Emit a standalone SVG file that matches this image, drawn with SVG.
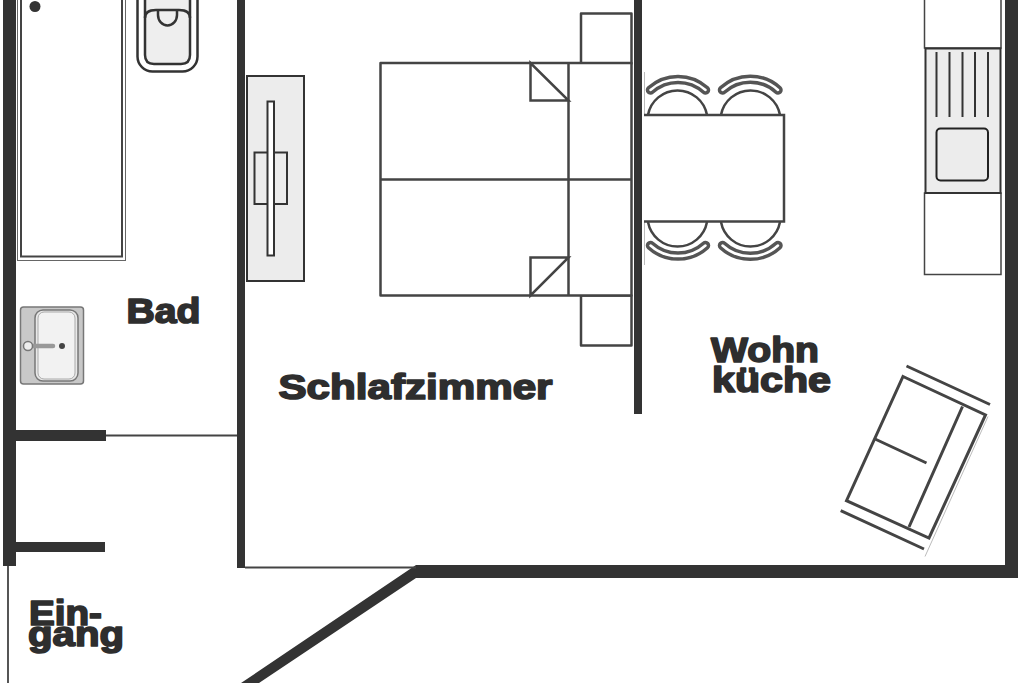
<svg xmlns="http://www.w3.org/2000/svg" width="1024" height="683" viewBox="0 0 1024 683">
<style>
.wall{fill:#333}
.ln{fill:none;stroke:#444;stroke-width:2.500}
.lw{fill:#fff;stroke:#444;stroke-width:2.500;stroke-linejoin:round}
.gr{fill:#ececec;stroke:#333;stroke-width:2}
.faint{fill:none;stroke:#bbb;stroke-width:1}
.lb{font-family:"Liberation Sans",Arial,sans-serif;font-weight:700;fill:#2e2e2e;stroke:#2e2e2e;stroke-width:1.700;stroke-linejoin:round}
</style>
<rect width="1024" height="683" fill="#fff"/>
<g id="walls">
<rect class="wall" x="3" y="0" width="13" height="566"/>
<rect class="wall" x="237" y="0" width="8" height="568"/>
<rect class="wall" x="1005" y="0" width="13" height="578"/>
<rect class="wall" x="634" y="0" width="8" height="414"/>
<rect class="wall" x="16" y="430" width="90" height="11"/>
<rect class="wall" x="16" y="542" width="89" height="10"/>
<polygon class="wall" points="416,565 1018,565 1018,578 416,578 259,683 241,683"/>
<path d="M106 435.500H237M245 567.500H416M8 566V683" fill="none" stroke="#444" stroke-width="1.800"/>
</g>
<g id="bathtub">
<rect x="17.500" y="-5" width="108" height="265.500" fill="#fff" stroke="#666" stroke-width="1"/>
<rect x="21" y="-5" width="101" height="261.500" fill="none" stroke="#444" stroke-width="2"/>
<circle cx="35" cy="6.500" r="5.500" fill="#333"/>
</g>
<g id="toilet">
<rect x="137.500" y="-20" width="60" height="91.500" rx="15" fill="#fff" stroke="#333" stroke-width="2.500"/>
<path d="M145 -10V55Q145 64 154 64H181Q190 64 190 55V-10Z" fill="#eee" stroke="#333" stroke-width="2.500"/>
<path d="M145 18Q145 10 156 10H179Q190 10 190 18" fill="none" stroke="#333" stroke-width="2.500"/>
<path d="M158 11V15A9.500 10.500 0 0 0 177 15V11" fill="none" stroke="#333" stroke-width="2.500"/>
</g>
<g id="washbasin">
<rect x="20.500" y="307" width="63" height="77" rx="3" fill="#c8c8c8" stroke="#777" stroke-width="1.500"/>
<rect x="35" y="310" width="43" height="71" rx="8" fill="#e8e8e8" stroke="#777" stroke-width="1.500"/>
<rect x="38" y="312" width="37" height="67" rx="6" fill="#f2f2f2" stroke="#aaa" stroke-width="1"/>
<path d="M28 346H53" stroke="#999" stroke-width="4.500" stroke-linecap="round"/>
<circle cx="28" cy="346" r="4.500" fill="#eee" stroke="#777" stroke-width="1.500"/>
<circle cx="62" cy="346" r="3" fill="#444"/>
</g>
<g id="wardrobe">
<rect class="gr" x="247" y="76" width="57" height="205"/>
<rect x="254.500" y="152.500" width="32.500" height="51.500" fill="none" stroke="#333" stroke-width="2"/>
<rect x="267.500" y="101.500" width="6.500" height="154" fill="#fff" stroke="#333" stroke-width="2"/>
</g>
<g id="bed">
<rect class="lw" x="581" y="13.500" width="50.500" height="50"/>
<rect class="lw" x="581" y="295.500" width="50.500" height="50"/>
<rect class="lw" x="380.500" y="63" width="251" height="232.500"/>
<path class="ln" d="M380.500 179.500H631.500M568.500 63V295.500"/>
<path class="ln" d="M530.500 63V100.500H568.500ZM530.500 295.500V257.500H568.500Z"/>
</g>
<g id="table">
<path class="faint" d="M644.500 72V265"/>
<path class="ln" d="M648 115A30 30 0 0 1 707 115M721 115A30 30 0 0 1 780 115M648 222A30 30 0 0 0 707 222M721 222A30 30 0 0 0 780 222"/>
<path d="M644 115H784V221.500H644" fill="#fff" stroke="#444" stroke-width="2.500"/>
<path d="M650.500 90A41 41 0 0 1 705.500 90M722.500 90A41 41 0 0 1 778 90M650.500 245.500A41 41 0 0 0 705.500 245.500M722.500 245.500A41 41 0 0 0 778 245.500" fill="none" stroke="#555" stroke-width="9.500" stroke-linecap="round"/>
<path d="M650.500 90A41 41 0 0 1 705.500 90M722.500 90A41 41 0 0 1 778 90M650.500 245.500A41 41 0 0 0 705.500 245.500M722.500 245.500A41 41 0 0 0 778 245.500" fill="none" stroke="#fff" stroke-width="2.500" stroke-linecap="round"/>
</g>
<g id="kitchen">
<rect x="924.500" y="-5" width="76.500" height="53" fill="#fff" stroke="#444" stroke-width="1.500"/>
<rect x="924.500" y="193" width="76.500" height="81.500" fill="#fff" stroke="#444" stroke-width="1.500"/>
<rect x="925.500" y="48.500" width="75" height="144.500" fill="#ececec" stroke="#333" stroke-width="2"/>
<path d="M936.500 52V117M949.500 52V117M962.500 52V117M975 52V117M988 52V117" stroke="#333" stroke-width="2" fill="none"/>
<rect x="936.500" y="128.500" width="51.500" height="52" rx="4" fill="#ececec" stroke="#222" stroke-width="2"/>
</g>
<g id="sofa">
<path class="faint" d="M988 416.500L925 556.500"/>
<polygon points="903,376.500 985.500,415 929,538 846.500,500.700" fill="#fff" stroke="#444" stroke-width="3"/>
<path d="M962.500 406.500L909 527M875 439L926.500 463M906.500 366L990 404.500M840.700 510.700L924 549" fill="none" stroke="#444" stroke-width="3"/>
</g>
<g id="labels">
<text class="lb" x="126.500" y="323" font-size="35" textLength="74" lengthAdjust="spacingAndGlyphs">Bad</text>
<text class="lb" x="278.500" y="398.500" font-size="35" textLength="274" lengthAdjust="spacingAndGlyphs">Schlafzimmer</text>
<text class="lb" x="711" y="362" font-size="35" textLength="108" lengthAdjust="spacingAndGlyphs">Wohn</text>
<text class="lb" x="712" y="391.500" font-size="35" textLength="119" lengthAdjust="spacingAndGlyphs">küche</text>
<text class="lb" x="29" y="625" font-size="35" textLength="73" lengthAdjust="spacingAndGlyphs">Ein-</text>
<text class="lb" x="28" y="646" font-size="35" textLength="96" lengthAdjust="spacingAndGlyphs">gang</text>
</g>
</svg>
